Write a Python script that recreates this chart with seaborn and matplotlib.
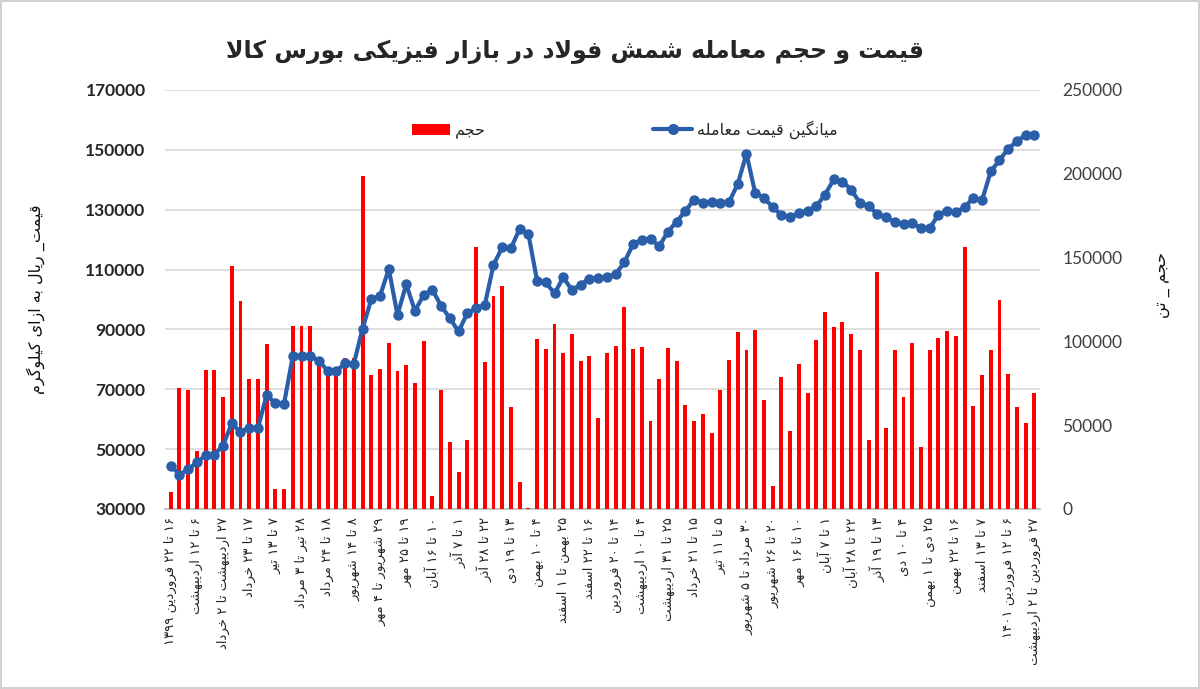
import re
import numpy as np
import pandas as pd
import seaborn as sns
import matplotlib.pyplot as plt
from matplotlib.patches import Patch
from matplotlib.lines import Line2D

# weekly average price (rial per kg)
price = [44500, 41500, 43200, 45600, 47900, 48100, 51200, 58600, 55700, 57100,
         57000, 68100, 65300, 65200, 81100, 81100, 81100, 79500, 76100, 76100,
         78700, 78600, 90300, 100100, 101200, 110200, 94800, 105100, 96200, 101500,
         103200, 97900, 93700, 89300, 95400, 97100, 98100, 111500, 117400, 117100,
         123600, 121900, 106300, 105700, 102000, 107400, 103100, 105000, 107000, 107100,
         107400, 108500, 112400, 118500, 120000, 120200, 117800, 122700, 126000, 129600,
         133400, 132300, 132700, 132200, 132500, 138600, 148700, 135600, 134000, 130800,
         128300, 127500, 128900, 129700, 131200, 135000, 140100, 139400, 136700, 132300,
         131200, 128600, 127400, 126000, 125100, 125600, 123800, 123800, 128300, 129700,
         129200, 130800, 133900, 133100, 142800, 146500, 150400, 152800, 155100, 155100]

# weekly traded volume (ton)
volume = [9900, 72200, 70800, 34400, 83100, 83100, 66800, 144800, 123900, 77600,
          77600, 98600, 11900, 11900, 109400, 109400, 109400, 89000, 83000, 82000,
          90100, 90100, 198500, 80100, 83700, 99000, 82100, 86100, 75200, 100000,
          7500, 70800, 39700, 22100, 41300, 156300, 87700, 126900, 132800, 60600,
          16100, 600, 101400, 95500, 110600, 93100, 104600, 88500, 91500, 54500,
          93100, 97400, 120500, 95500, 96700, 52300, 77600, 96100, 88500, 62200,
          52300, 56900, 45300, 70800, 89100, 105400, 94600, 107000, 65200, 13900,
          78500, 46300, 86700, 69200, 100600, 117500, 108400, 111600, 104600, 94600,
          41300, 141400, 48300, 94600, 66800, 99000, 36800, 94600, 102000, 106000,
          103000, 156100, 61600, 79700, 94600, 124500, 80500, 60900, 51300, 69200]

# every third week carries a label
week_labels = [
    "۱۶ تا ۲۲ فروردین ۱۳۹۹", "۶ تا ۱۲ اردیبهشت", "۲۷ اردیبهشت تا ۲ خرداد",
    "۱۷ تا ۲۳ خرداد", "۷ تا ۱۳ تیر", "۲۸ تیر تا ۳ مرداد", "۱۸ تا ۲۴ مرداد",
    "۸ تا ۱۴ شهریور", "۲۹ شهریور تا ۴ مهر", "۱۹ تا ۲۵ مهر", "۱۰ تا ۱۶ آبان",
    "۱ تا ۷ آذر", "۲۲ تا ۲۸ آذر", "۱۳ تا ۱۹ دی", "۴ تا ۱۰ بهمن",
    "۲۵ بهمن تا ۱ اسفند", "۱۶ تا ۲۲ اسفند", "۱۴ تا ۲۰ فروردین", "۴ تا ۱۰ اردیبهشت",
    "۲۵ تا ۳۱ اردیبهشت", "۱۵ تا ۲۱ خرداد", "۵ تا ۱۱ تیر", "۳۰ مرداد تا ۵ شهریور",
    "۲۰ تا ۲۶ شهریور", "۱۰ تا ۱۶ مهر", "۱ تا ۷ آبان", "۲۲ تا ۲۸ آبان",
    "۱۳ تا ۱۹ آذر", "۴ تا ۱۰ دی", "۲۵ دی تا ۱ بهمن", "۱۶ تا ۲۲ بهمن",
    "۷ تا ۱۳ اسفند", "۶ تا ۱۲ فروردین ۱۴۰۱", "۲۷ فروردین تا ۲ اردیبهشت",
]

title = "قیمت و حجم معامله شمش فولاد در بازار فیزیکی بورس کالا"
price_name = "میانگین قیمت معامله"
volume_name = "حجم"
price_axis = "قیمت_ ریال به ازای کیلوگرم"
volume_axis = "حجم _ تن"

# matplotlib does no arabic shaping, so pick presentation forms by hand
# (isolated, final, initial, medial); None = joins only to the right
FORMS = {
    '\u0627': ('\uFE8D', '\uFE8E', None, None),
    '\u0622': ('\uFE81', '\uFE82', None, None),
    '\u0628': ('\uFE8F', '\uFE90', '\uFE91', '\uFE92'),
    '\u067E': ('\uFB56', '\uFB57', '\uFB58', '\uFB59'),
    '\u062A': ('\uFE95', '\uFE96', '\uFE97', '\uFE98'),
    '\u062C': ('\uFE9D', '\uFE9E', '\uFE9F', '\uFEA0'),
    '\u062D': ('\uFEA1', '\uFEA2', '\uFEA3', '\uFEA4'),
    '\u062E': ('\uFEA5', '\uFEA6', '\uFEA7', '\uFEA8'),
    '\u062F': ('\uFEA9', '\uFEAA', None, None),
    '\u0630': ('\uFEAB', '\uFEAC', None, None),
    '\u0631': ('\uFEAD', '\uFEAE', None, None),
    '\u0632': ('\uFEAF', '\uFEB0', None, None),
    '\u0633': ('\uFEB1', '\uFEB2', '\uFEB3', '\uFEB4'),
    '\u0634': ('\uFEB5', '\uFEB6', '\uFEB7', '\uFEB8'),
    '\u0639': ('\uFEC9', '\uFECA', '\uFECB', '\uFECC'),
    '\u0641': ('\uFED1', '\uFED2', '\uFED3', '\uFED4'),
    '\u0642': ('\uFED5', '\uFED6', '\uFED7', '\uFED8'),
    '\u06A9': ('\uFB8E', '\uFB8F', '\uFB90', '\uFB91'),
    '\u06AF': ('\uFB92', '\uFB93', '\uFB94', '\uFB95'),
    '\u0644': ('\uFEDD', '\uFEDE', '\uFEDF', '\uFEE0'),
    '\u0645': ('\uFEE1', '\uFEE2', '\uFEE3', '\uFEE4'),
    '\u0646': ('\uFEE5', '\uFEE6', '\uFEE7', '\uFEE8'),
    '\u0648': ('\uFEED', '\uFEEE', None, None),
    '\u0647': ('\uFEE9', '\uFEEA', '\uFEEB', '\uFEEC'),
    '\u06CC': ('\uFBFC', '\uFBFD', '\uFBFE', '\uFBFF'),
}


def shape(text):
    text = text.replace('\u064A', '\u06CC').replace('\u0643', '\u06A9')
    out = []
    i = 0
    while i < len(text):
        c = text[i]
        if c not in FORMS:
            out.append(c)
            i += 1
            continue
        prev = text[i - 1] if i > 0 else ''
        nxt = text[i + 1] if i + 1 < len(text) else ''
        join_prev = prev in FORMS and FORMS[prev][2] is not None
        if c == '\u0644' and nxt == '\u0627':
            out.append('\uFEFC' if join_prev else '\uFEFB')
            i += 2
            continue
        iso, fin, ini, med = FORMS[c]
        join_next = ini is not None and nxt in FORMS
        if join_prev and join_next:
            out.append(med)
        elif join_prev:
            out.append(fin)
        elif join_next:
            out.append(ini)
        else:
            out.append(iso)
        i += 1
    return ''.join(out)


def fa(text):
    # reverse for right-to-left display, keep digit runs left-to-right
    runs = re.findall(r'\d+|\D+', shape(text))
    return ''.join(r if r[0].isdigit() else r[::-1] for r in reversed(runs))


sns.set_theme(style='white')
plt.rcParams['font.family'] = ['DejaVu Sans']

df = pd.DataFrame({'week': np.arange(len(price)), 'price': price, 'volume': volume})

red = '#ff0000'
blue = '#2a5ea8'

fig = plt.figure(figsize=(12, 6.89), dpi=100)
fig.patch.set_edgecolor('#d0d0d0')
fig.patch.set_linewidth(1.5)

ax = fig.add_axes([0.1375, 0.2613, 0.7292, 0.6081])
ax2 = ax.twinx()
ax3 = ax.twinx()

# volume bars, right axis
sns.barplot(data=df, x='week', y='volume', ax=ax2, color=red, width=0.45,
            saturation=1, linewidth=0)
ax2.set_ylim(0, 250000)
ax2.set_yticks(range(0, 250001, 50000))
ax2.set_yticklabels([str(v) for v in range(0, 250001, 50000)],
                    fontsize=12.5, color='#404040', family='Lato')
ax2.set_ylabel(fa(volume_axis), fontsize=11.5, rotation=90, color='#111111')
ax2.yaxis.set_label_coords(1.131, 0.535)
ax2.set_xlabel('')

# price line, left axis scale
sns.lineplot(data=df, x='week', y='price', ax=ax3, color=blue, linewidth=3,
             marker='o', markersize=7.5, markeredgewidth=0)
ax3.set_ylim(30000, 170000)
ax3.set_yticks([])
ax3.set_ylabel('')
ax3.set_xlabel('')

ax.set_ylim(30000, 170000)
ax.set_yticks(range(30000, 170001, 20000))
ax.set_yticklabels([str(v) for v in range(30000, 170001, 20000)],
                   fontsize=12.5, fontweight='bold', family='Lato')
ax.yaxis.grid(True, color='#d9d9d9', linewidth=1.2)
ax.set_ylabel(fa(price_axis), fontsize=11.5, color='#111111')
ax.yaxis.set_label_coords(-0.137, 0.5)

ax.set_xlim(-0.65, len(price) - 0.35)
ax.set_xticks(range(0, len(price), 3))
ax.set_xticklabels([fa(s) for s in week_labels], rotation=90, fontsize=9.5,
                   va='top', ha='center')
ax.set_xlabel('')

for a in (ax, ax2, ax3):
    for side in ('top', 'left', 'right', 'bottom'):
        a.spines[side].set_visible(False)
    a.tick_params(length=0)
ax.spines['bottom'].set_visible(True)
ax.spines['bottom'].set_color('#bfbfbf')
ax.tick_params(axis='y', pad=14)
ax.tick_params(axis='x', pad=6)
ax2.tick_params(axis='y', pad=16)

handles = [Patch(facecolor=red, edgecolor='none'),
           Line2D([], [], color=blue, linewidth=3, marker='o', markersize=7)]
ax3.legend(handles, [fa(volume_name), fa(price_name)], loc='center',
           bbox_to_anchor=(0.525, 0.905), ncol=2, frameon=False, fontsize=11.5,
           columnspacing=10.5, handlelength=2.4, handletextpad=0.3)

fig.text(0.479, 0.925, fa(title), ha='center', va='center', fontsize=17,
         fontweight='bold')

fig.savefig('out.png', dpi=100)
